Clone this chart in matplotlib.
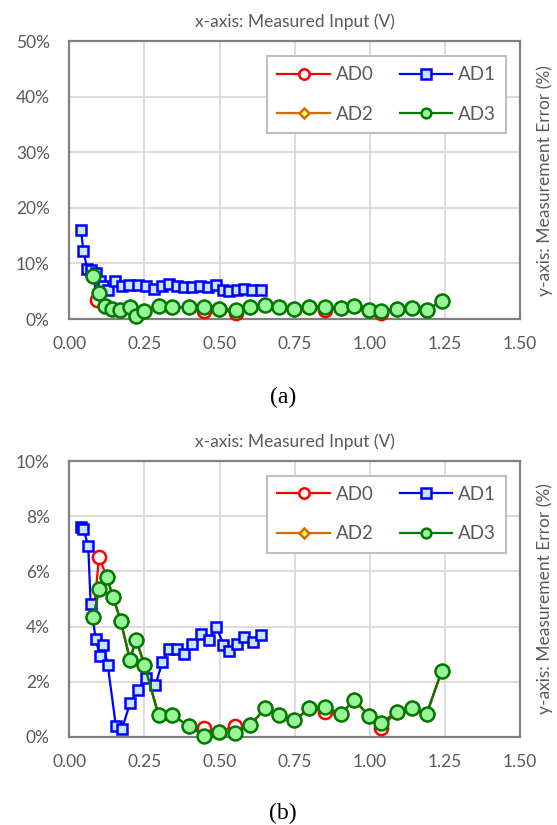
"""Measurement error vs measured input for the four ADC channels, panels (a) and (b)."""

import matplotlib

matplotlib.use("Agg")
import matplotlib.pyplot as plt
from matplotlib.lines import Line2D
from matplotlib.ticker import FuncFormatter, MultipleLocator

# ---- panel (a) data: measured input (V) and measurement error (%) ----
a_ad0_x = [0.080, 0.092, 0.119, 0.141, 0.169, 0.202, 0.222, 0.250, 0.299, 0.343, 0.397, 0.449, 0.497, 0.555,
           0.602, 0.652, 0.699, 0.749, 0.799, 0.852, 0.905, 0.947, 0.999, 1.039, 1.089, 1.139, 1.189, 1.239]
a_ad0_y = [7.8, 3.4, 2.3, 1.8, 1.6, 2.1, 0.6, 1.4, 2.4, 2.1, 2.1, 1.5, 1.8, 1.0,
           2.1, 2.5, 2.1, 1.8, 2.25, 1.7, 1.9, 2.4, 1.7, 1.1, 1.8, 1.9, 1.6, 3.2]

a_ad1_x = [0.039, 0.047, 0.060, 0.071, 0.088, 0.102, 0.113, 0.128, 0.152, 0.175, 0.200, 0.227, 0.255, 0.283,
           0.308, 0.332, 0.358, 0.383, 0.408, 0.436, 0.461, 0.488, 0.513, 0.532, 0.558, 0.583, 0.608, 0.638]
a_ad1_y = [16.0, 12.2, 9.0, 8.8, 8.2, 6.8, 6.0, 5.2, 6.9, 6.0, 6.2, 6.1, 6.0, 5.4,
           6.0, 6.3, 6.0, 5.7, 5.8, 6.0, 5.7, 6.1, 5.2, 5.0, 5.3, 5.4, 5.2, 5.3]

a_ad3_x = [0.080, 0.100, 0.119, 0.141, 0.169, 0.202, 0.222, 0.250, 0.299, 0.343, 0.397, 0.449, 0.497, 0.555,
           0.602, 0.652, 0.699, 0.749, 0.799, 0.852, 0.905, 0.947, 0.999, 1.039, 1.089, 1.139, 1.189, 1.239]
a_ad3_y = [7.8, 4.7, 2.3, 1.8, 1.6, 2.1, 0.6, 1.4, 2.4, 2.1, 2.1, 2.1, 1.8, 1.6,
           2.1, 2.5, 2.1, 1.8, 2.25, 2.2, 1.9, 2.4, 1.7, 1.4, 1.8, 1.9, 1.6, 3.2]

# AD2 sits exactly under AD3
a_ad2_x = [0.080, 0.100, 0.119, 0.141, 0.169, 0.202, 0.222, 0.250, 0.299, 0.343, 0.397, 0.449, 0.497, 0.555,
           0.602, 0.652, 0.699, 0.749, 0.799, 0.852, 0.905, 0.947, 0.999, 1.039, 1.089, 1.139, 1.189, 1.239]
a_ad2_y = [7.8, 4.7, 2.3, 1.8, 1.6, 2.1, 0.6, 1.4, 2.4, 2.1, 2.1, 2.1, 1.8, 1.6,
           2.1, 2.5, 2.1, 1.8, 2.25, 2.2, 1.9, 2.4, 1.7, 1.4, 1.8, 1.9, 1.6, 3.2]

# ---- panel (b) data ----
b_ad3_x = [0.080, 0.099, 0.125, 0.145, 0.171, 0.202, 0.222, 0.250, 0.297, 0.343, 0.397, 0.449, 0.499, 0.552,
           0.602, 0.652, 0.699, 0.749, 0.799, 0.852, 0.905, 0.948, 0.999, 1.039, 1.089, 1.139, 1.189, 1.239]
b_ad3_y = [4.34, 5.35, 5.78, 5.09, 4.21, 2.80, 3.53, 2.62, 0.79, 0.79, 0.40, 0.04, 0.19, 0.13,
           0.43, 1.04, 0.79, 0.60, 1.04, 1.08, 0.84, 1.34, 0.76, 0.52, 0.91, 1.04, 0.82, 2.38]

b_ad0_x = [0.080, 0.099, 0.125, 0.145, 0.171, 0.202, 0.222, 0.250, 0.297, 0.343, 0.397, 0.449, 0.499, 0.552,
           0.602, 0.652, 0.699, 0.749, 0.799, 0.852, 0.905, 0.948, 0.999, 1.039, 1.089, 1.139, 1.189, 1.239]
b_ad0_y = [4.34, 6.53, 5.78, 5.09, 4.21, 2.80, 3.53, 2.62, 0.79, 0.79, 0.40, 0.34, 0.19, 0.40,
           0.43, 1.04, 0.79, 0.60, 1.04, 0.92, 0.84, 1.34, 0.76, 0.34, 0.91, 1.04, 0.82, 2.38]

b_ad2_x = [0.080, 0.099, 0.125, 0.145, 0.171, 0.202, 0.222, 0.250, 0.297, 0.343, 0.397, 0.449, 0.499, 0.552,
           0.602, 0.652, 0.699, 0.749, 0.799, 0.852, 0.905, 0.948, 0.999, 1.039, 1.089, 1.139, 1.189, 1.239]
b_ad2_y = [4.34, 5.35, 5.78, 5.09, 4.21, 2.80, 3.53, 2.62, 0.79, 0.79, 0.40, 0.04, 0.19, 0.13,
           0.43, 1.04, 0.79, 0.60, 1.04, 1.08, 0.84, 1.34, 0.76, 0.52, 0.91, 1.04, 0.82, 2.38]

b_ad1_x = [0.039, 0.047, 0.063, 0.071, 0.088, 0.102, 0.113, 0.128, 0.155, 0.175, 0.202, 0.230, 0.256, 0.286,
           0.310, 0.332, 0.358, 0.383, 0.410, 0.439, 0.466, 0.489, 0.513, 0.533, 0.558, 0.583, 0.611, 0.638]
b_ad1_y = [7.62, 7.53, 6.93, 4.83, 3.55, 2.92, 3.35, 2.60, 0.40, 0.28, 1.22, 1.72, 2.12, 1.87,
           2.72, 3.20, 3.19, 3.02, 3.37, 3.73, 3.50, 4.00, 3.35, 3.10, 3.38, 3.62, 3.45, 3.68]

channels = ["AD0", "AD1", "AD2", "AD3"]
x_title = "x-axis: Measured Input (V)"
y_title = "y-axis: Measurement Error (%)"

TEXT = "#595959"
plt.rcParams["font.family"] = ["Lato", "DejaVu Sans"]

styles = {
    "AD0": dict(color="#ff0000", marker="o", ms=9.5, mfc="white", mec="#ff0000"),
    "AD1": dict(color="#0000ff", marker="s", ms=7.5, mfc="#c9e6fb", mec="#0000ff"),
    "AD2": dict(color="#d36b00", marker="D", ms=5, mfc="#ffff66", mec="#d36b00"),
    "AD3": dict(color="#007a00", marker="o", ms=10, mfc="#98f598", mec="#007a00"),
}
legend_ms = {"AD0": 7.5, "AD1": 7.5, "AD2": 5, "AD3": 7}


def draw_panel(ax, series, ymax, ystep):
    for z, (name, xs, ys) in enumerate(series):
        ax.plot(xs, ys, lw=1.6, mew=1.8, clip_on=False, zorder=3 + z, **styles[name])

    ax.set_xlim(0, 1.5)
    ax.set_ylim(0, ymax)
    ax.xaxis.set_major_locator(MultipleLocator(0.25))
    ax.yaxis.set_major_locator(MultipleLocator(ystep))
    ax.xaxis.set_major_formatter(FuncFormatter(lambda v, _: f"{v:.2f}"))
    ax.yaxis.set_major_formatter(FuncFormatter(lambda v, _: f"{v:.0f}%"))
    ax.grid(True, color="#d9d9d9", lw=1.3)
    ax.set_axisbelow(True)
    for side in ax.spines.values():
        side.set_color("#808080")
        side.set_linewidth(1.6)
    ax.tick_params(length=0, labelsize=12.5, labelcolor=TEXT)
    ax.tick_params(axis="y", pad=14)
    ax.tick_params(axis="x", pad=12)
    ax.set_title(x_title, fontsize=12.5, color=TEXT, pad=10)
    ax.text(1.055, 0.5, y_title, transform=ax.transAxes, rotation=90,
            ha="center", va="center", fontsize=12.5, color=TEXT)

    # ncol=2 fills column by column, so order the handles to read AD0 AD1 / AD2 AD3 across rows
    order = ["AD0", "AD2", "AD1", "AD3"]
    handles = []
    for name in order:
        st = dict(styles[name])
        st["ms"] = legend_ms[name]
        handles.append(Line2D([], [], lw=1.6, mew=1.8, **st))
    leg = ax.legend(handles, order, ncol=2, loc="upper right", bbox_to_anchor=(0.969, 0.947),
                    borderaxespad=0, fontsize=13.5, frameon=True, fancybox=False, framealpha=1,
                    edgecolor="#bfbfbf", handlelength=2.8, handletextpad=0.3, columnspacing=1.4,
                    labelspacing=1.2, borderpad=0.55, labelcolor=TEXT)
    leg.get_frame().set_linewidth(1.5)
    leg.set_zorder(10)


fig = plt.figure(figsize=(5.57, 8.25), dpi=100)
ax_a = fig.add_axes([0.1244, 0.6133, 0.8092, 0.3367])
ax_b = fig.add_axes([0.1244, 0.1067, 0.8092, 0.3345])

draw_panel(ax_a, [("AD0", a_ad0_x, a_ad0_y), ("AD1", a_ad1_x, a_ad1_y),
                  ("AD2", a_ad2_x, a_ad2_y), ("AD3", a_ad3_x, a_ad3_y)], 50, 10)
draw_panel(ax_b, [("AD0", b_ad0_x, b_ad0_y), ("AD1", b_ad1_x, b_ad1_y),
                  ("AD2", b_ad2_x, b_ad2_y), ("AD3", b_ad3_x, b_ad3_y)], 10, 2)

fig.text(0.508, 1 - 397 / 825, "(a)", ha="center", va="center", fontsize=17,
         family="Liberation Serif", color="black")
fig.text(0.508, 1 - 813 / 825, "(b)", ha="center", va="center", fontsize=17,
         family="Liberation Serif", color="black")

fig.savefig("out.png", dpi=100)
